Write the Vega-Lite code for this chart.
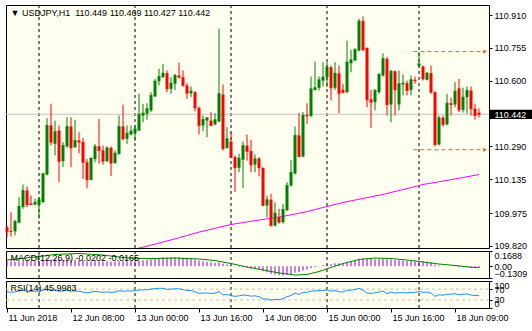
{
"$schema": "https://vega.github.io/schema/vega-lite/v6.json",
"background": "#FFFFFF",
"padding": {"left": 4, "top": 4, "right": 0, "bottom": 0},
"autosize": {"type": "pad"},
"spacing": 3,
"bounds": "flush",
"config": {
  "view": {"stroke": "#000000", "fill": "#FFFFF0", "strokeWidth": 1},
  "font": "Liberation Sans",
  "scale": {"continuousPadding": 0},
  "axis": {"domain": false, "grid": false, "labelFont": "Liberation Sans", "labelFontSize": 9, "labelColor": "#000000", "tickColor": "#000000", "tickSize": 3, "labelPadding": 2, "labelOverlap": false},
  "title": {"font": "Liberation Sans", "fontSize": 9, "fontWeight": "normal", "color": "#000000", "anchor": "start", "frame": "group", "baseline": "alphabetic"}
},
"datasets": {
  "days": [{"i": 8}, {"i": 32}, {"i": 56}, {"i": 80}, {"i": 103}],
  "candles": [
    {"i":0,"o":109.907,"h":109.916,"l":109.861,"c":109.889,"m":0.055,"r":60},
    {"i":1,"o":109.890,"h":109.979,"l":109.864,"c":109.888,"m":0.052,"r":58},
    {"i":2,"o":109.889,"h":109.943,"l":109.869,"c":109.935,"m":0.050,"r":60},
    {"i":3,"o":109.930,"h":110.050,"l":109.926,"c":110.006,"m":0.052,"r":63},
    {"i":4,"o":110.004,"h":110.110,"l":109.995,"c":110.082,"m":0.057,"r":65},
    {"i":5,"o":110.082,"h":110.100,"l":110.003,"c":110.015,"m":0.058,"r":62},
    {"i":6,"o":110.020,"h":110.058,"l":110.013,"c":110.015,"m":0.058,"r":62},
    {"i":7,"o":110.015,"h":110.044,"l":110.011,"c":110.026,"m":0.057,"r":62},
    {"i":8,"o":110.013,"h":110.050,"l":109.948,"c":110.038,"m":0.056,"r":63},
    {"i":9,"o":110.026,"h":110.163,"l":110.025,"c":110.161,"m":0.060,"r":66},
    {"i":10,"o":110.157,"h":110.423,"l":110.152,"c":110.389,"m":0.072,"r":70},
    {"i":11,"o":110.389,"h":110.491,"l":110.294,"c":110.310,"m":0.075,"r":66},
    {"i":12,"o":110.302,"h":110.412,"l":110.247,"c":110.360,"m":0.078,"r":67},
    {"i":13,"o":110.365,"h":110.389,"l":110.121,"c":110.220,"m":0.074,"r":62},
    {"i":14,"o":110.220,"h":110.310,"l":110.192,"c":110.294,"m":0.072,"r":63},
    {"i":15,"o":110.290,"h":110.428,"l":110.283,"c":110.384,"m":0.075,"r":66},
    {"i":16,"o":110.384,"h":110.428,"l":110.192,"c":110.283,"m":0.072,"r":62},
    {"i":17,"o":110.286,"h":110.416,"l":110.283,"c":110.318,"m":0.071,"r":63},
    {"i":18,"o":110.318,"h":110.357,"l":110.258,"c":110.310,"m":0.069,"r":62},
    {"i":19,"o":110.311,"h":110.331,"l":110.137,"c":110.215,"m":0.063,"r":59},
    {"i":20,"o":110.215,"h":110.231,"l":110.092,"c":110.132,"m":0.056,"r":56},
    {"i":21,"o":110.132,"h":110.238,"l":110.129,"c":110.234,"m":0.055,"r":59},
    {"i":22,"o":110.230,"h":110.302,"l":110.215,"c":110.290,"m":0.056,"r":61},
    {"i":23,"o":110.290,"h":110.420,"l":110.208,"c":110.271,"m":0.055,"r":60},
    {"i":24,"o":110.271,"h":110.294,"l":110.204,"c":110.220,"m":0.052,"r":58},
    {"i":25,"o":110.220,"h":110.290,"l":110.216,"c":110.283,"m":0.053,"r":60},
    {"i":26,"o":110.283,"h":110.290,"l":110.149,"c":110.211,"m":0.050,"r":58},
    {"i":27,"o":110.211,"h":110.271,"l":110.208,"c":110.258,"m":0.050,"r":59},
    {"i":28,"o":110.255,"h":110.436,"l":110.250,"c":110.384,"m":0.055,"r":64},
    {"i":29,"o":110.384,"h":110.488,"l":110.318,"c":110.326,"m":0.055,"r":62},
    {"i":30,"o":110.326,"h":110.389,"l":110.302,"c":110.352,"m":0.056,"r":63},
    {"i":31,"o":110.346,"h":110.389,"l":110.342,"c":110.362,"m":0.057,"r":63},
    {"i":32,"o":110.352,"h":110.389,"l":110.315,"c":110.373,"m":0.058,"r":64},
    {"i":33,"o":110.365,"h":110.539,"l":110.362,"c":110.441,"m":0.063,"r":67},
    {"i":34,"o":110.436,"h":110.491,"l":110.404,"c":110.447,"m":0.066,"r":67},
    {"i":35,"o":110.445,"h":110.494,"l":110.416,"c":110.468,"m":0.070,"r":68},
    {"i":36,"o":110.460,"h":110.546,"l":110.452,"c":110.531,"m":0.076,"r":70},
    {"i":37,"o":110.526,"h":110.609,"l":110.523,"c":110.598,"m":0.085,"r":72},
    {"i":38,"o":110.598,"h":110.657,"l":110.578,"c":110.620,"m":0.092,"r":73},
    {"i":39,"o":110.617,"h":110.680,"l":110.614,"c":110.636,"m":0.098,"r":73},
    {"i":40,"o":110.636,"h":110.649,"l":110.546,"c":110.562,"m":0.097,"r":69},
    {"i":41,"o":110.562,"h":110.617,"l":110.539,"c":110.589,"m":0.097,"r":70},
    {"i":42,"o":110.586,"h":110.633,"l":110.557,"c":110.625,"m":0.099,"r":71},
    {"i":43,"o":110.625,"h":110.686,"l":110.611,"c":110.617,"m":0.098,"r":71},
    {"i":44,"o":110.617,"h":110.649,"l":110.573,"c":110.578,"m":0.094,"r":68},
    {"i":45,"o":110.578,"h":110.589,"l":110.515,"c":110.541,"m":0.088,"r":65},
    {"i":46,"o":110.541,"h":110.573,"l":110.523,"c":110.551,"m":0.083,"r":65},
    {"i":47,"o":110.546,"h":110.551,"l":110.456,"c":110.472,"m":0.074,"r":60},
    {"i":48,"o":110.472,"h":110.479,"l":110.346,"c":110.389,"m":0.062,"r":54},
    {"i":49,"o":110.389,"h":110.436,"l":110.362,"c":110.417,"m":0.054,"r":55},
    {"i":50,"o":110.412,"h":110.428,"l":110.333,"c":110.425,"m":0.048,"r":56},
    {"i":51,"o":110.412,"h":110.452,"l":110.386,"c":110.389,"m":0.041,"r":54},
    {"i":52,"o":110.394,"h":110.447,"l":110.389,"c":110.416,"m":0.037,"r":55},
    {"i":53,"o":110.408,"h":110.847,"l":110.405,"c":110.539,"m":0.043,"r":61},
    {"i":54,"o":110.535,"h":110.583,"l":110.271,"c":110.279,"m":0.028,"r":48},
    {"i":55,"o":110.283,"h":110.381,"l":110.279,"c":110.326,"m":0.020,"r":50},
    {"i":56,"o":110.313,"h":110.357,"l":110.236,"c":110.239,"m":0.010,"r":46},
    {"i":57,"o":110.240,"h":110.247,"l":110.074,"c":110.189,"m":-0.003,"r":43},
    {"i":58,"o":110.189,"h":110.255,"l":110.168,"c":110.234,"m":-0.010,"r":45},
    {"i":59,"o":110.227,"h":110.313,"l":110.092,"c":110.294,"m":-0.013,"r":48},
    {"i":60,"o":110.294,"h":110.346,"l":110.223,"c":110.267,"m":-0.017,"r":47},
    {"i":61,"o":110.268,"h":110.321,"l":110.168,"c":110.203,"m":-0.024,"r":44},
    {"i":62,"o":110.204,"h":110.252,"l":110.168,"c":110.231,"m":-0.028,"r":45},
    {"i":63,"o":110.233,"h":110.239,"l":110.148,"c":110.189,"m":-0.035,"r":42},
    {"i":64,"o":110.189,"h":110.190,"l":110.008,"c":110.011,"m":-0.055,"r":33},
    {"i":65,"o":110.011,"h":110.058,"l":109.955,"c":110.038,"m":-0.068,"r":34},
    {"i":66,"o":110.038,"h":110.066,"l":109.911,"c":109.916,"m":-0.085,"r":29},
    {"i":67,"o":109.916,"h":110.026,"l":109.911,"c":109.974,"m":-0.093,"r":32},
    {"i":68,"o":109.955,"h":109.995,"l":109.924,"c":109.932,"m":-0.100,"r":31},
    {"i":69,"o":109.932,"h":110.019,"l":109.924,"c":109.992,"m":-0.103,"r":35},
    {"i":70,"o":109.989,"h":110.121,"l":109.984,"c":110.105,"m":-0.098,"r":42},
    {"i":71,"o":110.105,"h":110.227,"l":110.100,"c":110.167,"m":-0.090,"r":46},
    {"i":72,"o":110.162,"h":110.384,"l":110.157,"c":110.342,"m":-0.072,"r":55},
    {"i":73,"o":110.342,"h":110.447,"l":110.239,"c":110.242,"m":-0.065,"r":50},
    {"i":74,"o":110.242,"h":110.452,"l":110.239,"c":110.436,"m":-0.048,"r":58},
    {"i":75,"o":110.438,"h":110.494,"l":110.397,"c":110.434,"m":-0.038,"r":58},
    {"i":76,"o":110.434,"h":110.620,"l":110.428,"c":110.562,"m":-0.022,"r":63},
    {"i":77,"o":110.557,"h":110.691,"l":110.554,"c":110.567,"m":-0.010,"r":63},
    {"i":78,"o":110.567,"h":110.620,"l":110.554,"c":110.605,"m":0.002,"r":65},
    {"i":79,"o":110.601,"h":110.688,"l":110.573,"c":110.617,"m":0.012,"r":65},
    {"i":80,"o":110.618,"h":110.688,"l":110.570,"c":110.664,"m":0.022,"r":67},
    {"i":81,"o":110.664,"h":110.672,"l":110.507,"c":110.567,"m":0.025,"r":62},
    {"i":82,"o":110.567,"h":110.688,"l":110.557,"c":110.636,"m":0.032,"r":65},
    {"i":83,"o":110.635,"h":110.672,"l":110.447,"c":110.541,"m":0.032,"r":60},
    {"i":84,"o":110.557,"h":110.586,"l":110.540,"c":110.546,"m":0.033,"r":59},
    {"i":85,"o":110.546,"h":110.790,"l":110.541,"c":110.688,"m":0.044,"r":66},
    {"i":86,"o":110.683,"h":110.747,"l":110.641,"c":110.699,"m":0.054,"r":66},
    {"i":87,"o":110.696,"h":110.756,"l":110.693,"c":110.747,"m":0.064,"r":68},
    {"i":88,"o":110.743,"h":110.893,"l":110.740,"c":110.882,"m":0.082,"r":73},
    {"i":89,"o":110.882,"h":110.904,"l":110.740,"c":110.747,"m":0.088,"r":66},
    {"i":90,"o":110.756,"h":110.757,"l":110.475,"c":110.510,"m":0.084,"r":55},
    {"i":91,"o":110.513,"h":110.557,"l":110.378,"c":110.499,"m":0.080,"r":54},
    {"i":92,"o":110.499,"h":110.562,"l":110.460,"c":110.554,"m":0.078,"r":56},
    {"i":93,"o":110.546,"h":110.636,"l":110.539,"c":110.630,"m":0.080,"r":59},
    {"i":94,"o":110.625,"h":110.730,"l":110.620,"c":110.704,"m":0.084,"r":63},
    {"i":95,"o":110.704,"h":110.712,"l":110.436,"c":110.488,"m":0.076,"r":53},
    {"i":96,"o":110.488,"h":110.652,"l":110.404,"c":110.645,"m":0.074,"r":59},
    {"i":97,"o":110.645,"h":110.649,"l":110.436,"c":110.557,"m":0.068,"r":55},
    {"i":98,"o":110.488,"h":110.649,"l":110.460,"c":110.586,"m":0.066,"r":57},
    {"i":99,"o":110.583,"h":110.630,"l":110.531,"c":110.589,"m":0.063,"r":57},
    {"i":100,"o":110.589,"h":110.601,"l":110.531,"c":110.554,"m":0.058,"r":56},
    {"i":101,"o":110.557,"h":110.625,"l":110.531,"c":110.605,"m":0.056,"r":58},
    {"i":102,"o":110.605,"h":110.620,"l":110.586,"c":110.601,"m":0.052,"r":58},
    {"i":103,"o":110.671,"h":110.735,"l":110.664,"c":110.680,"m":0.055,"r":61},
    {"i":104,"o":110.668,"h":110.672,"l":110.601,"c":110.609,"m":0.052,"r":58},
    {"i":105,"o":110.605,"h":110.641,"l":110.601,"c":110.636,"m":0.050,"r":59},
    {"i":106,"o":110.636,"h":110.672,"l":110.539,"c":110.546,"m":0.042,"r":55},
    {"i":107,"o":110.546,"h":110.551,"l":110.290,"c":110.299,"m":0.018,"r":43},
    {"i":108,"o":110.299,"h":110.436,"l":110.294,"c":110.425,"m":0.008,"r":49},
    {"i":109,"o":110.425,"h":110.436,"l":110.384,"c":110.394,"m":-0.001,"r":47},
    {"i":110,"o":110.394,"h":110.539,"l":110.389,"c":110.494,"m":0.000,"r":51},
    {"i":111,"o":110.494,"h":110.520,"l":110.436,"c":110.488,"m":-0.002,"r":51},
    {"i":112,"o":110.488,"h":110.593,"l":110.475,"c":110.551,"m":-0.003,"r":53},
    {"i":113,"o":110.564,"h":110.609,"l":110.452,"c":110.463,"m":-0.010,"r":49},
    {"i":114,"o":110.463,"h":110.568,"l":110.450,"c":110.523,"m":-0.011,"r":51},
    {"i":115,"o":110.523,"h":110.573,"l":110.445,"c":110.554,"m":-0.010,"r":52},
    {"i":116,"o":110.554,"h":110.573,"l":110.436,"c":110.468,"m":-0.015,"r":48},
    {"i":117,"o":110.468,"h":110.491,"l":110.416,"c":110.436,"m":-0.019,"r":46},
    {"i":118,"o":110.449,"h":110.469,"l":110.427,"c":110.442,"m":-0.0202,"r":46}
  ],
  "ma": [
    {"i":32,"v":109.805},{"i":34,"v":109.814},{"i":38,"v":109.833},{"i":43,"v":109.858},{"i":48,"v":109.885},
    {"i":56,"v":109.921},{"i":63,"v":109.942},{"i":69,"v":109.959},{"i":75,"v":109.982},{"i":80,"v":110.006},
    {"i":84,"v":110.025},{"i":89,"v":110.044},{"i":94,"v":110.063},{"i":99,"v":110.086},{"i":104,"v":110.110},
    {"i":109,"v":110.126},{"i":114,"v":110.143},{"i":118,"v":110.157}
  ],
  "sig": [
    {"i":0,"s":0.069},{"i":6,"s":0.097},{"i":12,"s":0.130},{"i":18,"s":0.141},{"i":24,"s":0.124},
    {"i":30,"s":0.091},{"i":36,"s":0.085},{"i":42,"s":0.091},{"i":48,"s":0.080},{"i":52,"s":0.063},
    {"i":56,"s":0.030},{"i":60,"s":-0.009},{"i":64,"s":-0.042},{"i":68,"s":-0.075},{"i":72,"s":-0.098},
    {"i":75,"s":-0.092},{"i":78,"s":-0.059},{"i":81,"s":-0.014},{"i":84,"s":0.030},{"i":88,"s":0.074},
    {"i":92,"s":0.091},{"i":96,"s":0.085},{"i":100,"s":0.069},{"i":104,"s":0.047},{"i":108,"s":0.024},
    {"i":112,"s":0.008},{"i":116,"s":-0.012},{"i":118,"s":-0.0165}
  ],
  "levels": [{"p": 110.738, "x1": 101.6, "x2": 118.9, "xa": 119.5}, {"p": 110.274, "x1": 101.6, "x2": 118.9, "xa": 119.5}],
  "box": [{"t": 110.463, "b": 110.420, "x1": 120.7, "x2": 132}]
},
"vconcat": [
  {
    "width": 483, "height": 243,
    "title": {"text": "▼ USDJPY,H1\u00a0 110.449 110.469 110.427 110.442", "offset": -13.5, "dx": 4.5},
    "resolve": {"axis": {"x": "independent", "y": "independent"}},
    "layer": [
      {"data": {"name": "days"}, "mark": {"type": "rule", "color": "#000000", "strokeDash": [3, 3], "strokeWidth": 1},
       "encoding": {"x": {"field": "i", "type": "quantitative", "scale": {"domain": [-0.25, 120.5], "nice": false, "zero": false, "padding": 0}, "axis": null}}},
      {"data": {"values": [{"b": 110.442}]}, "mark": {"type": "rule", "color": "#C0C0C0", "strokeWidth": 1},
       "encoding": {"y": {"field": "b", "type": "quantitative", "axis": null, "scale": {"domain": [109.8098, 110.9582], "nice": false, "zero": false, "padding": 0}}}},
      {"data": {"name": "ma"}, "mark": {"type": "line", "color": "#FF00FF", "strokeWidth": 1, "clip": true},
       "encoding": {"x": {"field": "i", "type": "quantitative", "axis": null}, "y": {"field": "v", "type": "quantitative", "axis": null}}},
      {"data": {"name": "candles"}, "mark": {"type": "rule", "strokeWidth": 1},
       "encoding": {
         "x": {"field": "i", "type": "quantitative", "axis": null},
         "y": {"field": "l", "type": "quantitative", "title": null,
               "axis": {"orient": "right", "values": [110.910, 110.755, 110.600, 110.442, 110.290, 110.135, 109.975, 109.820], "format": ".3f", "zindex": 1, "labelOverlap": false,
                        "labelColor": {"condition": {"test": "abs(datum.value - 110.442) < 0.0001", "value": "#FFFFFF"}, "value": "#000000"}}},
         "y2": {"field": "h"},
         "color": {"condition": {"test": "datum.c >= datum.o", "value": "#008000"}, "value": "#FF0000"}}},
      {"data": {"name": "candles"}, "mark": {"type": "bar", "size": 3},
       "encoding": {
         "x": {"field": "i", "type": "quantitative", "axis": null},
         "y": {"field": "o", "type": "quantitative", "axis": null},
         "y2": {"field": "c"},
         "color": {"condition": {"test": "datum.c >= datum.o", "value": "#008000"}, "value": "#FF0000"}}},
      {"data": {"name": "candles"}, "mark": {"type": "tick", "orient": "horizontal", "size": 3, "thickness": 1},
       "encoding": {
         "x": {"field": "i", "type": "quantitative", "axis": null},
         "y": {"field": "c", "type": "quantitative", "axis": null},
         "color": {"condition": {"test": "datum.c >= datum.o", "value": "#008000"}, "value": "#FF0000"}}},
      {"data": {"name": "levels"}, "mark": {"type": "rule", "color": "#FF5A00", "strokeDash": [4, 3], "strokeWidth": 1},
       "encoding": {"x": {"field": "x1", "type": "quantitative", "axis": null}, "x2": {"field": "x2"}, "y": {"field": "p", "type": "quantitative", "axis": null}}},
      {"data": {"name": "levels"}, "mark": {"type": "point", "shape": "triangle-right", "filled": true, "color": "#FF5A00", "size": 18, "opacity": 1},
       "encoding": {"x": {"field": "xa", "type": "quantitative", "axis": null}, "y": {"field": "p", "type": "quantitative", "axis": null}}},
      {"data": {"name": "box"}, "mark": {"type": "rect", "color": "#000000"},
       "encoding": {"x": {"field": "x1", "type": "quantitative", "axis": null}, "x2": {"field": "x2"}, "y": {"field": "t", "type": "quantitative", "axis": null}, "y2": {"field": "b"}}}
    ]
  },
  {
    "width": 483, "height": 27,
    "title": {"text": "MACD(12,26,9) -0.0202 -0.0165", "offset": -12.5, "dx": 4.5},
    "resolve": {"axis": {"x": "independent", "y": "independent"}},
    "layer": [
      {"data": {"name": "days"}, "mark": {"type": "rule", "color": "#000000", "strokeDash": [3, 3], "strokeWidth": 1},
       "encoding": {"x": {"field": "i", "type": "quantitative", "scale": {"domain": [-0.25, 120.5], "nice": false, "zero": false, "padding": 0}, "axis": null}}},
      {"data": {"name": "candles"}, "mark": {"type": "rule", "color": "#9400D3", "strokeWidth": 1},
       "encoding": {
         "x": {"field": "i", "type": "quantitative", "axis": null},
         "y": {"field": "m", "type": "quantitative", "title": null, "scale": {"domain": [-0.1309, 0.1688], "nice": false, "zero": false},
               "axis": {"orient": "right", "values": [0.1688, 0, -0.1309], "labelFlush": true, "labelOverlap": false, "labelExpr": "datum.value == 0 ? '0.00' : format(datum.value, '.4f')"}},
         "y2": {"datum": 0}}},
      {"data": {"name": "sig"}, "mark": {"type": "line", "color": "#008000", "strokeWidth": 1},
       "encoding": {"x": {"field": "i", "type": "quantitative", "axis": null}, "y": {"field": "s", "type": "quantitative", "axis": null}}}
    ]
  },
  {
    "width": 483, "height": 27,
    "title": {"text": "RSI(14) 45.9983", "offset": -12.5, "dx": 4.5},
    "resolve": {"axis": {"x": "independent", "y": "independent"}},
    "layer": [
      {"data": {"name": "days"}, "mark": {"type": "rule", "color": "#000000", "strokeDash": [3, 3], "strokeWidth": 1},
       "encoding": {"x": {"field": "i", "type": "quantitative", "axis": null, "scale": {"domain": [-0.25, 120.5], "nice": false, "zero": false, "padding": 0}}}},
      {"data": {"values": [{"lv": 70}, {"lv": 30}]}, "mark": {"type": "rule", "color": "#C0C0C0", "strokeDash": [3, 3], "strokeWidth": 1},
       "encoding": {"y": {"field": "lv", "type": "quantitative", "axis": null, "scale": {"domain": [0, 100], "nice": false, "zero": false}}}},
      {"data": {"name": "candles"}, "mark": {"type": "line", "color": "#1E90FF", "strokeWidth": 1},
       "encoding": {
         "x": {"field": "i", "type": "quantitative", "title": null,
               "axis": {"orient": "bottom", "values": [0, 16, 32, 48, 64, 80, 96, 112],
                        "labelExpr": "['11 Jun 2018','12 Jun 08:00','13 Jun 00:00','13 Jun 16:00','14 Jun 08:00','15 Jun 00:00','15 Jun 16:00','18 Jun 09:00'][round(datum.value/16)]",
                        "labelAlign": "left", "labelFlush": false, "labelOverlap": false, "labelOffset": 1, "tickSize": 4, "labelPadding": 1.5, "labelBaseline": "top"}},
         "y": {"field": "r", "type": "quantitative", "title": null,
               "axis": {"orient": "right", "values": [100, 70, 30, 0], "labelFlush": true, "labelOverlap": false}}}}
    ]
  }
]
}
